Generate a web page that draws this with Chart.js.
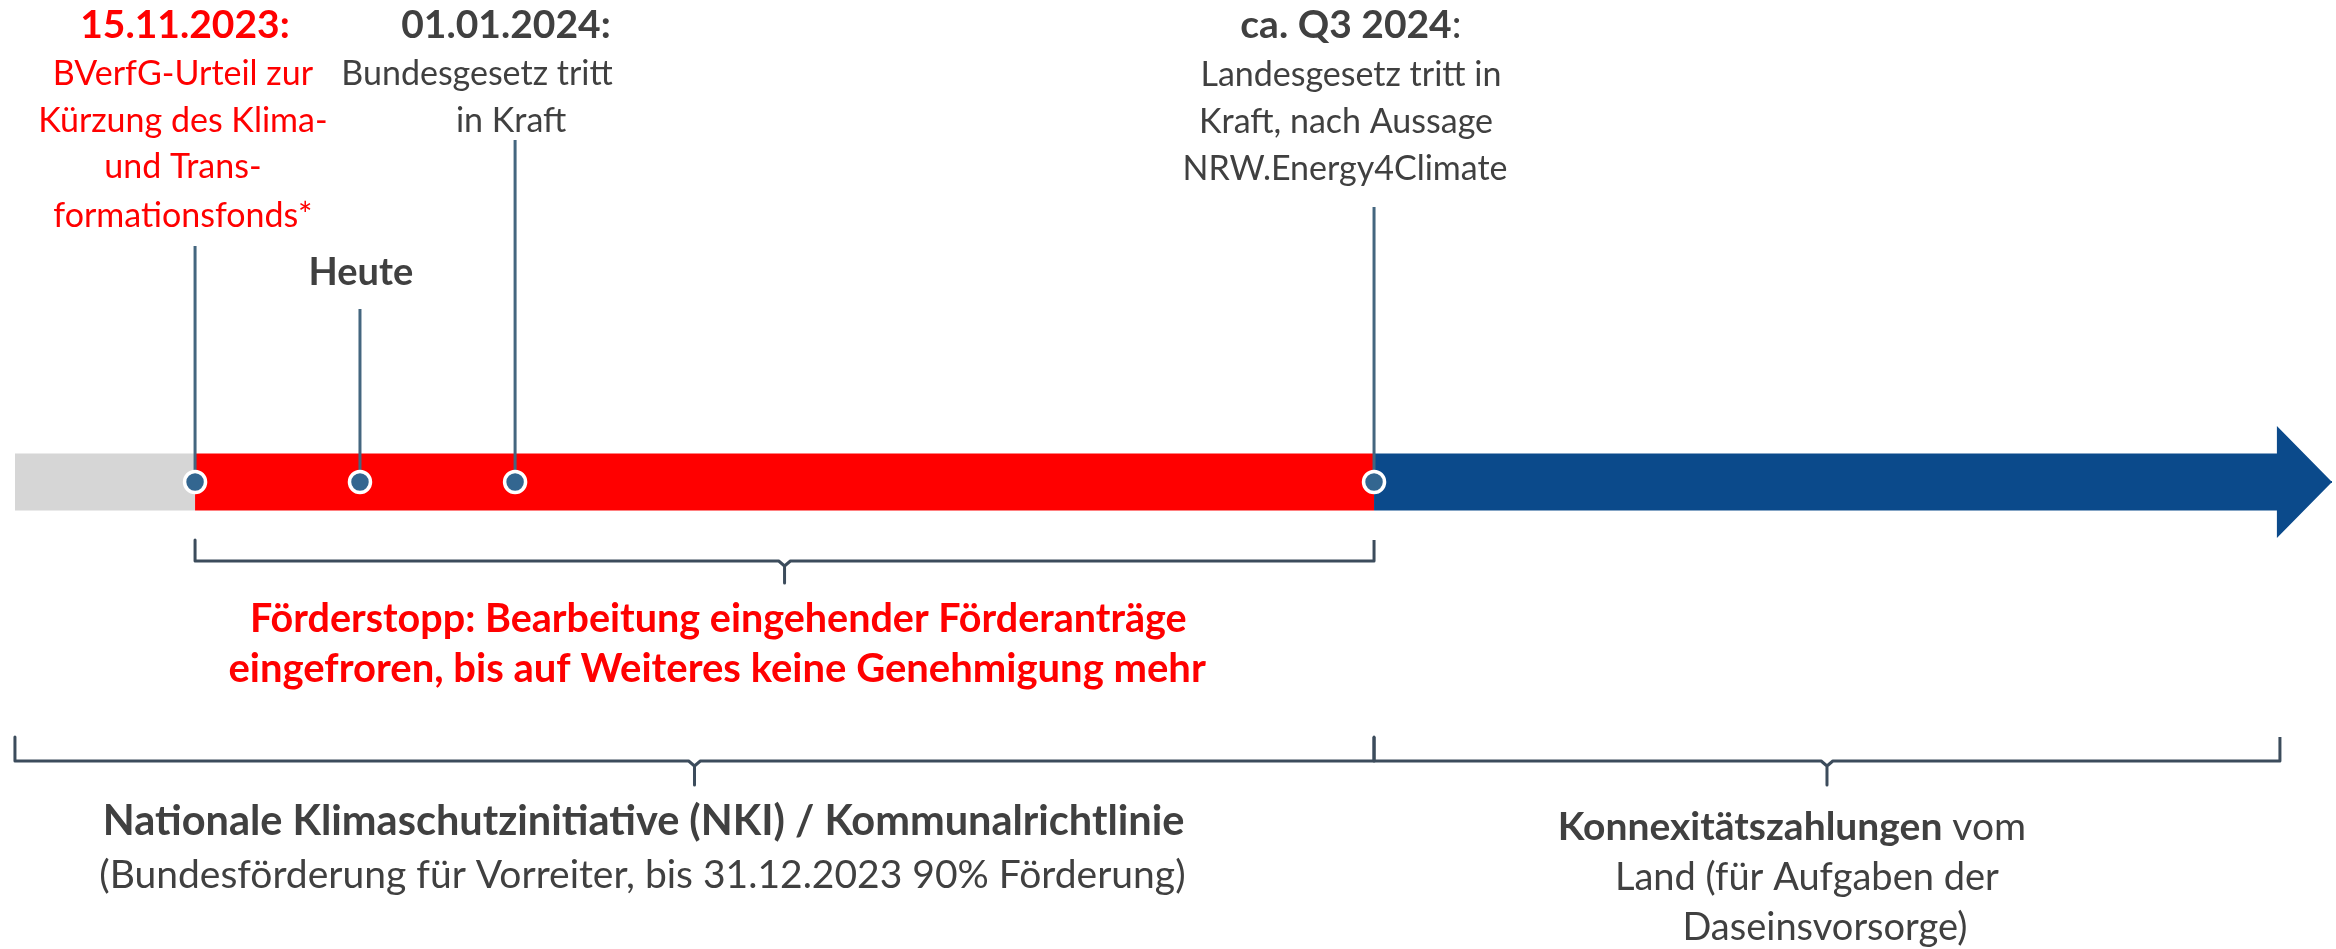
<!DOCTYPE html>
<html>
<head>
<meta charset="utf-8">
<title>Förderstopp Zeitstrahl</title>
<script src="https://cdn.jsdelivr.net/npm/chart.js"></script>
<style>
  html, body { margin: 0; padding: 0; background: #fff; }
  #wrap { width: 2336px; height: 949px; }
</style>
</head>
<body>
<div id="wrap"><canvas id="myChart"></canvas></div>
<script>
// x = position along the timeline in % of the width, y = rows above/below the bar centre
const phaseNames = ['vorher', 'Förderstopp', 'Konnexität'];
const phaseStart = [0.64, 8.35, 58.82];
const phaseEnd = [8.35, 58.82, 97.47];
const arrowTip = 99.83;

const eventNames = ['15.11.2023', 'Heute', '01.01.2024', 'ca. Q3 2024'];
const eventPos = [8.35, 15.41, 22.05, 58.82];
const stemTop = [23.6, 17.3, 34.2, 27.5];

const upperBracket = [8.35, 58.82];
const lowerBrackets = [[0.64, 58.82], [58.82, 97.6]];

const dateLabels = ['15.11.2023:', '01.01.2024:', 'ca. Q3 2024'];
const eventText = [
  ['BVerfG-Urteil zur', 'Kürzung des Klima-', 'und Trans-', 'formationsfonds*'],
  ['Bundesgesetz tritt', 'in Kraft'],
  ['Landesgesetz tritt in', 'Kraft, nach Aussage', 'NRW.Energy4Climate']
];
const todayLabel = 'Heute';
const stopText = [
  'Förderstopp: Bearbeitung eingehender Förderanträge',
  'eingefroren, bis auf Weiteres keine Genehmigung mehr'
];
const nkiText = [
  'Nationale Klimaschutzinitiative (NKI) / Kommunalrichtlinie',
  '(Bundesförderung für Vorreiter, bis 31.12.2023 90% Förderung)'
];
const landText = [
  ['Konnexitätszahlungen', ' vom'],
  'Land (für Aufgaben der',
  'Daseinsvorsorge)'
];

// styles
const RED = '#ff0000';
const DARK = '#404040';
const phaseColors = ['#d6d6d6', '#ff0000', '#0b4a8b'];
const stemColor = '#44667f';
const markerColor = '#336690';
const bracketColor = '#3c4c5c';
const FONT = 'Lato';
const barHalf = 2.85;
const arrowHalf = 5.6;

function bracketPath(a, b, yEnd, yLine, yTip) {
  const m = (a + b) / 2;
  return [
    {x: a, y: yEnd}, {x: a, y: yLine},
    {x: m - 0.25, y: yLine}, {x: m, y: yLine - 0.5}, {x: m, y: yTip},
    {x: m, y: yLine - 0.5}, {x: m + 0.25, y: yLine},
    {x: b, y: yLine}, {x: b, y: yEnd}
  ];
}

const datasets = [];

datasets.push({
  label: 'Ereignisse',
  data: eventPos.map(p => ({x: p, y: 0})),
  showLine: false,
  pointRadius: 10.5,
  pointBorderWidth: 3.5,
  pointBackgroundColor: markerColor,
  pointBorderColor: '#ffffff',
  order: 0
});

eventPos.forEach((p, i) => {
  datasets.push({
    label: eventNames[i],
    data: [{x: p, y: 0}, {x: p, y: stemTop[i]}],
    borderColor: stemColor,
    borderWidth: 3,
    pointRadius: 0,
    order: 1
  });
});

datasets.push({
  label: 'Förderstopp-Klammer',
  data: bracketPath(upperBracket[0], upperBracket[1], -5.8, -7.9, -10.1),
  borderColor: bracketColor,
  borderWidth: 3,
  borderJoinStyle: 'round',
  pointRadius: 0,
  order: 1
});
lowerBrackets.forEach(b => {
  datasets.push({
    label: 'Klammer',
    data: bracketPath(b[0], b[1], -25.5, -27.9, -30.3),
    borderColor: bracketColor,
    borderWidth: 3,
    borderJoinStyle: 'round',
    pointRadius: 0,
    order: 1
  });
});

phaseNames.forEach((name, i) => {
  if (i < phaseNames.length - 1) {
    datasets.push({
      label: name,
      data: [{x: phaseStart[i], y: barHalf}, {x: phaseEnd[i], y: barHalf}],
      borderWidth: 0,
      pointRadius: 0,
      backgroundColor: phaseColors[i],
      fill: {value: -barHalf},
      order: 2
    });
  } else {
    // last phase is the arrow, two halves that overlap a little at the centre line
    [1, -1].forEach(s => {
      datasets.push({
        label: name,
        data: [
          {x: phaseStart[i], y: s * barHalf}, {x: phaseEnd[i], y: s * barHalf},
          {x: phaseEnd[i], y: s * arrowHalf}, {x: arrowTip, y: 0}
        ],
        borderWidth: 0,
        pointRadius: 0,
        backgroundColor: phaseColors[i],
        fill: {value: -s * 0.1},
        order: 2
      });
    });
  }
});

// text blocks: x centre, y baseline, size, colour
function runs(t, bold) {
  return Array.isArray(t) ? [{text: t[0], bold: true}, {text: t[1], bold: false}] : [{text: t, bold: bold}];
}
const labels = [
  {runs: runs(dateLabels[0], true), x: 7.92, y: 44.4, size: 39, color: RED},
  {runs: runs(dateLabels[1], true), x: 21.66, y: 44.4, size: 39, color: DARK},
  {runs: [{text: dateLabels[2], bold: true}, {text: ':', bold: false}], x: 57.83, y: 44.4, size: 39, color: DARK},
  {runs: runs(todayLabel, true), x: 15.45, y: 19.7, size: 38, color: DARK},
  {runs: runs(eventText[1][0], false), x: 20.42, y: 39.7, size: 34, color: DARK},
  {runs: runs(eventText[1][1], false), x: 21.88, y: 35.0, size: 34, color: DARK},
  {runs: runs(stopText[0], true), x: 30.75, y: -15.0, size: 39.5, color: RED},
  {runs: runs(stopText[1], true), x: 30.7, y: -20.0, size: 40, color: RED},
  {runs: runs(nkiText[0], true), x: 27.55, y: -35.3, size: 41.5, color: DARK},
  {runs: runs(nkiText[1], false), x: 27.5, y: -40.6, size: 39, color: DARK},
  {runs: runs(landText[0]), x: 76.71, y: -35.8, size: 39, color: DARK},
  {runs: runs(landText[1], false), x: 77.35, y: -40.8, size: 38, color: DARK},
  {runs: runs(landText[2], false), x: 78.12, y: -45.8, size: 38, color: DARK}
];
const event1Y = [39.7, 35.0, 30.4, 25.5];
eventText[0].forEach((t, i) => {
  labels.push({runs: runs(t, false), x: 7.83, y: event1Y[i], size: 34, color: RED});
});
const event3X = [57.83, 57.62, 57.58];
const event3Y = [39.6, 34.9, 30.2];
eventText[2].forEach((t, i) => {
  labels.push({runs: runs(t, false), x: event3X[i], y: event3Y[i], size: 34, color: DARK});
});

function font(bold, size) {
  return (bold ? 'bold ' : '') + size + 'px ' + FONT + ', "Open Sans", sans-serif';
}

function drawRuns(ctx, parts, cx, y, size, color) {
  ctx.save();
  ctx.fillStyle = color;
  ctx.textAlign = 'left';
  ctx.textBaseline = 'alphabetic';
  const widths = parts.map(r => {
    ctx.font = font(r.bold, size);
    return ctx.measureText(r.text).width;
  });
  const total = widths.reduce((a, b) => a + b, 0);
  let x = cx - total / 2;
  parts.forEach((r, i) => {
    ctx.font = font(r.bold, size);
    ctx.fillText(r.text, x, y);
    x += widths[i];
  });
  ctx.restore();
}

const textPlugin = {
  id: 'timelineText',
  afterDatasetsDraw(chart) {
    const xs = chart.scales.x;
    const ys = chart.scales.y;
    labels.forEach(l => {
      drawRuns(chart.ctx, l.runs, xs.getPixelForValue(l.x), ys.getPixelForValue(l.y), l.size, l.color);
    });
  }
};

const ctx = document.getElementById('myChart').getContext('2d');
new Chart(ctx, {
  type: 'line',
  data: {datasets: datasets},
  options: {
    responsive: true,
    maintainAspectRatio: false,
    animation: false,
    events: [],
    layout: {padding: 0, autoPadding: false},
    plugins: {
      legend: {display: false},
      tooltip: {enabled: false}
    },
    scales: {
      x: {type: 'linear', min: 0, max: 100, display: false},
      y: {type: 'linear', min: -46.7, max: 48.2, display: false}
    }
  },
  plugins: [textPlugin]
});
</script>
</body>
</html>
